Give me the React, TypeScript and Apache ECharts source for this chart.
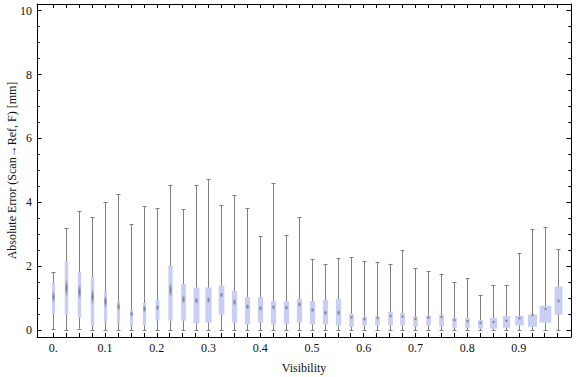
import { useEffect, useRef } from "react";
import * as echarts from "echarts";

// Bin centres (Visibility)
const visibility = [
  0, 0.025, 0.05, 0.075, 0.1, 0.125, 0.15, 0.175, 0.2, 0.225,
  0.25, 0.275, 0.3, 0.325, 0.35, 0.375, 0.4, 0.425, 0.45, 0.475,
  0.5, 0.525, 0.55, 0.575, 0.6, 0.625, 0.65, 0.675, 0.7, 0.725,
  0.75, 0.775, 0.8, 0.825, 0.85, 0.875, 0.9, 0.925, 0.95, 0.975,
];
const whiskerLow = [
  0.02, 0, 0.04, 0, 0, 0, 0, 0, 0, 0,
  0, 0, 0, 0, 0, 0, 0, 0, 0, 0,
  0, 0, 0, 0, 0, 0, 0, 0, 0, 0,
  0, 0, 0, 0, 0, 0, 0, 0, 0, 0,
];
const q1 = [
  0.51, 0.48, 0.38, 0.13, 0.23, 0.21, 0.13, 0.14, 0.29, 0.29,
  0.29, 0.21, 0.23, 0.48, 0.23, 0.17, 0.23, 0.17, 0.19, 0.23,
  0.17, 0.17, 0.14, 0.1, 0.14, 0.14, 0.14, 0.14, 0.1, 0.14,
  0.1, 0.07, 0.07, 0.04, 0.04, 0.07, 0.14, 0.1, 0.23, 0.48,
];
const median = [
  1.04, 1.31, 1.2, 1.04, 0.89, 0.73, 0.5, 0.66, 0.7, 1.25,
  0.96, 0.92, 0.94, 1.1, 0.87, 0.73, 0.68, 0.71, 0.7, 0.8,
  0.63, 0.54, 0.54, 0.4, 0.34, 0.38, 0.44, 0.42, 0.35, 0.39,
  0.41, 0.31, 0.28, 0.22, 0.25, 0.29, 0.37, 0.47, 0.66, 0.91,
];
const q3 = [
  1.48, 2.15, 1.82, 1.66, 1.22, 0.89, 0.63, 0.85, 0.94, 2.02,
  1.44, 1.33, 1.33, 1.39, 1.22, 1.03, 1.03, 0.91, 0.9, 0.97,
  0.91, 0.94, 0.97, 0.51, 0.41, 0.42, 0.56, 0.53, 0.42, 0.45,
  0.48, 0.38, 0.38, 0.31, 0.38, 0.44, 0.44, 0.48, 0.76, 1.36,
];
const whiskerHigh = [
  1.81, 3.19, 3.73, 3.53, 4.01, 4.26, 3.31, 3.88, 3.81, 4.55,
  3.78, 4.55, 4.73, 3.91, 4.22, 3.81, 2.94, 4.6, 2.97, 3.53,
  2.23, 2.06, 2.26, 2.29, 2.16, 2.13, 2.07, 2.51, 1.94, 1.85,
  1.76, 1.5, 1.63, 1.1, 1.41, 1.41, 2.4, 3.16, 3.22, 2.54,
];
// Relative sample weight per bin (drives box width)
const sampleWeight = [
  0.57, 0.66, 0.66, 0.66, 0.57, 0.57, 0.57, 0.62, 0.75, 0.81,
  0.89, 1.13, 1.19, 1.08, 1.0, 1.0, 1.0, 1.0, 1.0, 1.0,
  1.0, 1.0, 1.0, 0.89, 0.89, 0.89, 0.89, 0.89, 0.89, 0.89,
  0.89, 0.89, 0.89, 0.94, 1.38, 1.38, 1.57, 1.7, 2.2, 1.51,
];

const xLabelValues = [0, 0.1, 0.2, 0.3, 0.4, 0.5, 0.6, 0.7, 0.8, 0.9];
const xLabelTexts = ["0.", "0.1", "0.2", "0.3", "0.4", "0.5", "0.6", "0.7", "0.8", "0.9"];
const yMajorTicks = [0, 2, 4, 6, 8, 10];
const yMinorTicks = [
  0, 0.5, 1, 1.5, 2, 2.5, 3, 3.5, 4, 4.5, 5, 5.5, 6, 6.5, 7, 7.5, 8, 8.5, 9, 9.5, 10,
];

const X_MIN = -0.0315;
const X_MAX = 1.0008;
const Y_MIN = -0.22;
const Y_MAX = 10.21;

const FONT = "'Liberation Serif', 'Times New Roman', serif";
const BOX_FILL = "#c9cef5";
const WHISKER = "#7f7f7f";

export default function App() {
  const ref = useRef<HTMLDivElement>(null);

  useEffect(() => {
    if (!ref.current) return;
    const chart = echarts.init(ref.current, undefined, { renderer: "svg" });

    const data = visibility.map((v, i) => [
      v, whiskerLow[i], q1[i], median[i], q3[i], whiskerHigh[i], sampleWeight[i],
    ]);

    const frameLine = { show: true, onZero: false, lineStyle: { color: "#000", width: 1 } };

    const xBase = (position: "top" | "bottom") => ({
      type: "value" as const,
      min: X_MIN,
      max: X_MAX,
      position,
      axisLine: frameLine,
      splitLine: { show: false },
      axisTick: {
        show: true,
        inside: true,
        length: 4,
        customValues: visibility,
        lineStyle: { color: "#000", width: 1 },
      },
    });

    const yBase = (position: "left" | "right", ticks: number[], len: number, line: boolean) => ({
      type: "value" as const,
      min: Y_MIN,
      max: Y_MAX,
      position,
      axisLine: line ? frameLine : { show: false, onZero: false },
      splitLine: { show: false },
      axisTick: {
        show: true,
        inside: true,
        length: len,
        customValues: ticks,
        lineStyle: { color: "#000", width: 1 },
      },
      axisLabel: { show: false },
    });

    const option: any = {
      animation: false,
      grid: { left: 37, right: 5, top: 4, bottom: 40, containLabel: false, outerBoundsMode: "none" },
      xAxis: [
        {
          ...xBase("bottom"),
          axisLabel: {
            show: true,
            customValues: xLabelValues,
            formatter: (v: number) => {
              const idx = xLabelValues.findIndex((x) => Math.abs(x - v) < 1e-9);
              return idx >= 0 ? xLabelTexts[idx] : "";
            },
            color: "#111",
            fontFamily: FONT,
            fontSize: 12,
            margin: 5,
          },
          name: "Visibility",
          nameLocation: "middle",
          nameGap: 25,
          nameMoveOverlap: false,
          nameTextStyle: { color: "#111", fontFamily: FONT, fontSize: 12 },
        },
        { ...xBase("top"), axisLabel: { show: false } },
      ],
      yAxis: [
        {
          ...yBase("left", yMajorTicks, 4.5, true),
          axisLabel: {
            show: true,
            customValues: yMajorTicks,
            color: "#111",
            fontFamily: FONT,
            fontSize: 12,
            margin: 5,
          },
          name: "Absolute Error (Scan\u2192Ref, F) [mm]",
          nameLocation: "middle",
          nameGap: 19,
          nameMoveOverlap: false,
          nameTextStyle: { color: "#111", fontFamily: FONT, fontSize: 12 },
        },
        yBase("left", yMinorTicks, 2.7, false),
        yBase("right", yMajorTicks, 4.5, true),
        yBase("right", yMinorTicks, 2.7, false),
      ],
      series: [
        {
          type: "custom",
          xAxisIndex: 0,
          yAxisIndex: 0,
          data,
          encode: { x: 0, y: [1, 2, 3, 4, 5] },
          renderItem: (_params: any, api: any) => {
            const x = api.value(0);
            const lo = api.coord([x, api.value(1)]);
            const b1 = api.coord([x, api.value(2)]);
            const md = api.coord([x, api.value(3)]);
            const b3 = api.coord([x, api.value(4)]);
            const hi = api.coord([x, api.value(5)]);
            const w = api.value(6);
            const halfW = api.size([0.0102 * w, 0])[0] / 2;
            const cx = Math.round(lo[0]) + 0.5;
            const iqr = api.value(4) - api.value(2);
            const ry = Math.max(2, api.size([0, (0.12 * iqr) / w])[1]);
            const capHalf = 2;
            return {
              type: "group",
              children: [
                {
                  type: "line",
                  shape: { x1: cx, y1: hi[1], x2: cx, y2: lo[1] },
                  style: { stroke: WHISKER, lineWidth: 1 },
                },
                {
                  type: "line",
                  shape: { x1: cx - capHalf, y1: Math.round(hi[1]) + 0.5, x2: cx + capHalf, y2: Math.round(hi[1]) + 0.5 },
                  style: { stroke: WHISKER, lineWidth: 1 },
                },
                {
                  type: "line",
                  shape: { x1: cx - capHalf, y1: Math.round(lo[1]) + 0.5, x2: cx + capHalf, y2: Math.round(lo[1]) + 0.5 },
                  style: { stroke: WHISKER, lineWidth: 1 },
                },
                {
                  type: "rect",
                  shape: { x: cx - halfW, y: b3[1], width: halfW * 2, height: b1[1] - b3[1] },
                  style: { fill: BOX_FILL },
                },
                {
                  type: "ellipse",
                  shape: { cx, cy: md[1], rx: 2, ry },
                  style: {
                    fill: new echarts.graphic.RadialGradient(0.5, 0.5, 0.5, [
                      { offset: 0, color: "rgba(105,105,115,0.9)" },
                      { offset: 0.6, color: "rgba(130,130,150,0.45)" },
                      { offset: 1, color: "rgba(160,160,190,0)" },
                    ]),
                  },
                },
              ],
            };
          },
        },
      ],
    };

    chart.setOption(option);
    return () => chart.dispose();
  }, []);

  return (
    <div
      ref={ref}
      style={{ position: "fixed", left: 0, top: 0, width: 576, height: 377, background: "#fff" }}
    />
  );
}
